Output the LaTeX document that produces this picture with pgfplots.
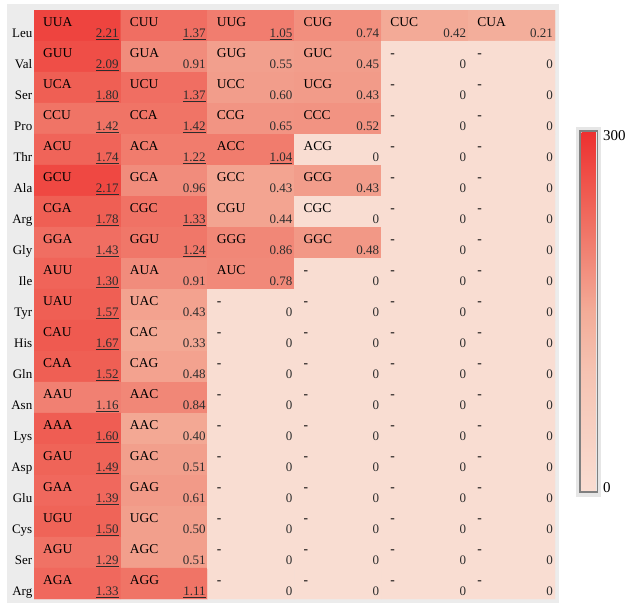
\documentclass[border=0pt]{standalone}
\usepackage{fontspec}
\setmainfont{Liberation Serif}
\usepackage{pgfplots}
\pgfplotsset{compat=1.18}
\definecolor{bggray}{RGB}{236,236,236}
\definecolor{cbgray}{RGB}{230,230,230}
\definecolor{framegray}{RGB}{128,128,128}
\definecolor{valcol}{RGB}{45,45,45}
\DeclareRobustCommand\ul[1]{\leavevmode\setbox0\hbox{#1}\rlap{\rule[-2.6pt]{\wd0}{1pt}}\box0}
\pgfplotsset{colormap={codon}{rgb255(0cm)=(249,221,210) rgb255(100cm)=(245,195,178) rgb255(150cm)=(243,172,152) rgb255(200cm)=(241,130,115) rgb255(250cm)=(239,90,80) rgb255(300cm)=(238,48,48)}}
\begin{document}
\begin{tikzpicture}
\useasboundingbox (0,0) rectangle (628pt,-606pt);
\fill[bggray] (7pt,-4pt) rectangle (559pt,-603pt);
\fill[cbgray] (576pt,-127pt) rectangle (601pt,-497pt);
\begin{axis}[
  at={(34pt,-10pt)}, anchor=north west,
  width=521pt, height=589pt, scale only axis,
  xmin=-0.5, xmax=5.5, ymin=-0.5, ymax=18.5, y dir=reverse,
  axis line style={draw=none}, tick style={draw=none}, major tick length=0pt,
  xtick=\empty,
  ytick={0,...,18},
  yticklabels={Leu,Val,Ser,Pro,Thr,Ala,Arg,Gly,Ile,Tyr,His,Gln,Asn,Lys,Asp,Glu,Cys,Ser,Arg},
  yticklabel style={anchor=base east, yshift=-11.5pt, xshift=-1.5pt, inner sep=0pt, font=\fontsize{13}{15}\selectfont},
  colormap name=codon,
  point meta min=0, point meta max=300,
  colorbar,
  colorbar style={at={(parent axis.north east)}, anchor=north west, xshift=18pt, yshift=-122pt,
    width=16pt, height=359pt, scale only axis,
    ytick={2.5,296.7}, yticklabels={0,300},
    yticklabel style={font=\fontsize{15}{17}\selectfont, xshift=2pt},
    major tick length=0pt, ytick style={draw=none}, axis line style={draw=none}},
]
\addplot[matrix plot*, mesh/cols=6, point meta=explicit] table[x=x, y=y, meta=c] {
x y c
0 0 276
1 0 225
2 0 206
3 0 185
4 0 152
5 0 145
0 1 264
1 1 188
2 1 165
3 1 168
4 1 0
5 1 0
0 2 244
1 2 225
2 2 168
3 2 170
4 2 0
5 2 0
0 3 218
1 3 218
2 3 178
3 3 180
4 3 0
5 3 0
0 4 237
1 4 208
2 4 208
3 4 0
4 4 0
5 4 0
0 5 272
1 5 188
2 5 160
3 5 168
4 5 0
5 5 0
0 6 244
1 6 220
2 6 160
3 6 0
4 6 0
5 6 0
0 7 225
1 7 214
2 7 194
3 7 174
4 7 0
5 7 0
0 8 237
1 8 188
2 8 192
3 8 0
4 8 0
5 8 0
0 9 244
1 9 162
2 9 0
3 9 0
4 9 0
5 9 0
0 10 250
1 10 155
2 10 0
3 10 0
4 10 0
5 10 0
0 11 244
1 11 162
2 11 0
3 11 0
4 11 0
5 11 0
0 12 202
1 12 194
2 12 0
3 12 0
4 12 0
5 12 0
0 13 246
1 13 155
2 13 0
3 13 0
4 13 0
5 13 0
0 14 238
1 14 166
2 14 0
3 14 0
4 14 0
5 14 0
0 15 232
1 15 172
2 15 0
3 15 0
4 15 0
5 15 0
0 16 238
1 16 166
2 16 0
3 16 0
4 16 0
5 16 0
0 17 220
1 17 166
2 17 0
3 17 0
4 17 0
5 17 0
0 18 232
1 18 218
2 18 0
3 18 0
4 18 0
5 18 0
};
% codon names
\addplot[only marks, mark=none, point meta=explicit symbolic, nodes near coords,
  nodes near coords style={anchor=base west, xshift=-34.5pt, yshift=-0.5pt, inner sep=0pt, text=black, font=\fontsize{13.5}{15}\selectfont}]
coordinates {
(0,0)[UUA] (1,0)[CUU] (2,0)[UUG] (3,0)[CUG] (4,0)[CUC] (5,0)[CUA]
(0,1)[GUU] (1,1)[GUA] (2,1)[GUG] (3,1)[GUC] (4,1)[-] (5,1)[-]
(0,2)[UCA] (1,2)[UCU] (2,2)[UCC] (3,2)[UCG] (4,2)[-] (5,2)[-]
(0,3)[CCU] (1,3)[CCA] (2,3)[CCG] (3,3)[CCC] (4,3)[-] (5,3)[-]
(0,4)[ACU] (1,4)[ACA] (2,4)[ACC] (3,4)[ACG] (4,4)[-] (5,4)[-]
(0,5)[GCU] (1,5)[GCA] (2,5)[GCC] (3,5)[GCG] (4,5)[-] (5,5)[-]
(0,6)[CGA] (1,6)[CGC] (2,6)[CGU] (3,6)[CGC] (4,6)[-] (5,6)[-]
(0,7)[GGA] (1,7)[GGU] (2,7)[GGG] (3,7)[GGC] (4,7)[-] (5,7)[-]
(0,8)[AUU] (1,8)[AUA] (2,8)[AUC] (3,8)[-] (4,8)[-] (5,8)[-]
(0,9)[UAU] (1,9)[UAC] (2,9)[-] (3,9)[-] (4,9)[-] (5,9)[-]
(0,10)[CAU] (1,10)[CAC] (2,10)[-] (3,10)[-] (4,10)[-] (5,10)[-]
(0,11)[CAA] (1,11)[CAG] (2,11)[-] (3,11)[-] (4,11)[-] (5,11)[-]
(0,12)[AAU] (1,12)[AAC] (2,12)[-] (3,12)[-] (4,12)[-] (5,12)[-]
(0,13)[AAA] (1,13)[AAC] (2,13)[-] (3,13)[-] (4,13)[-] (5,13)[-]
(0,14)[GAU] (1,14)[GAC] (2,14)[-] (3,14)[-] (4,14)[-] (5,14)[-]
(0,15)[GAA] (1,15)[GAG] (2,15)[-] (3,15)[-] (4,15)[-] (5,15)[-]
(0,16)[UGU] (1,16)[UGC] (2,16)[-] (3,16)[-] (4,16)[-] (5,16)[-]
(0,17)[AGU] (1,17)[AGC] (2,17)[-] (3,17)[-] (4,17)[-] (5,17)[-]
(0,18)[AGA] (1,18)[AGG] (2,18)[-] (3,18)[-] (4,18)[-] (5,18)[-]
};
% RSCU values
\addplot[only marks, mark=none, point meta=explicit symbolic, nodes near coords,
  nodes near coords style={anchor=base east, xshift=41.5pt, yshift=-11.5pt, inner sep=0pt, text=valcol, font=\fontsize{13}{15}\selectfont}]
coordinates {
(0,0)[\ul{2.21}] (1,0)[\ul{1.37}] (2,0)[\ul{1.05}] (3,0)[0.74] (4,0)[0.42] (5,0)[0.21]
(0,1)[\ul{2.09}] (1,1)[0.91] (2,1)[0.55] (3,1)[0.45] (4,1)[0] (5,1)[0]
(0,2)[\ul{1.80}] (1,2)[\ul{1.37}] (2,2)[0.60] (3,2)[0.43] (4,2)[0] (5,2)[0]
(0,3)[\ul{1.42}] (1,3)[\ul{1.42}] (2,3)[0.65] (3,3)[0.52] (4,3)[0] (5,3)[0]
(0,4)[\ul{1.74}] (1,4)[\ul{1.22}] (2,4)[\ul{1.04}] (3,4)[0] (4,4)[0] (5,4)[0]
(0,5)[\ul{2.17}] (1,5)[0.96] (2,5)[0.43] (3,5)[0.43] (4,5)[0] (5,5)[0]
(0,6)[\ul{1.78}] (1,6)[\ul{1.33}] (2,6)[0.44] (3,6)[0] (4,6)[0] (5,6)[0]
(0,7)[\ul{1.43}] (1,7)[\ul{1.24}] (2,7)[0.86] (3,7)[0.48] (4,7)[0] (5,7)[0]
(0,8)[\ul{1.30}] (1,8)[0.91] (2,8)[0.78] (3,8)[0] (4,8)[0] (5,8)[0]
(0,9)[\ul{1.57}] (1,9)[0.43] (2,9)[0] (3,9)[0] (4,9)[0] (5,9)[0]
(0,10)[\ul{1.67}] (1,10)[0.33] (2,10)[0] (3,10)[0] (4,10)[0] (5,10)[0]
(0,11)[\ul{1.52}] (1,11)[0.48] (2,11)[0] (3,11)[0] (4,11)[0] (5,11)[0]
(0,12)[\ul{1.16}] (1,12)[0.84] (2,12)[0] (3,12)[0] (4,12)[0] (5,12)[0]
(0,13)[\ul{1.60}] (1,13)[0.40] (2,13)[0] (3,13)[0] (4,13)[0] (5,13)[0]
(0,14)[\ul{1.49}] (1,14)[0.51] (2,14)[0] (3,14)[0] (4,14)[0] (5,14)[0]
(0,15)[\ul{1.39}] (1,15)[0.61] (2,15)[0] (3,15)[0] (4,15)[0] (5,15)[0]
(0,16)[\ul{1.50}] (1,16)[0.50] (2,16)[0] (3,16)[0] (4,16)[0] (5,16)[0]
(0,17)[\ul{1.29}] (1,17)[0.51] (2,17)[0] (3,17)[0] (4,17)[0] (5,17)[0]
(0,18)[\ul{1.33}] (1,18)[\ul{1.11}] (2,18)[0] (3,18)[0] (4,18)[0] (5,18)[0]
};
\end{axis}
\draw[framegray, line width=1.6pt] (580pt,-131pt) rectangle (597.6pt,-492.2pt);
\end{tikzpicture}
\end{document}
